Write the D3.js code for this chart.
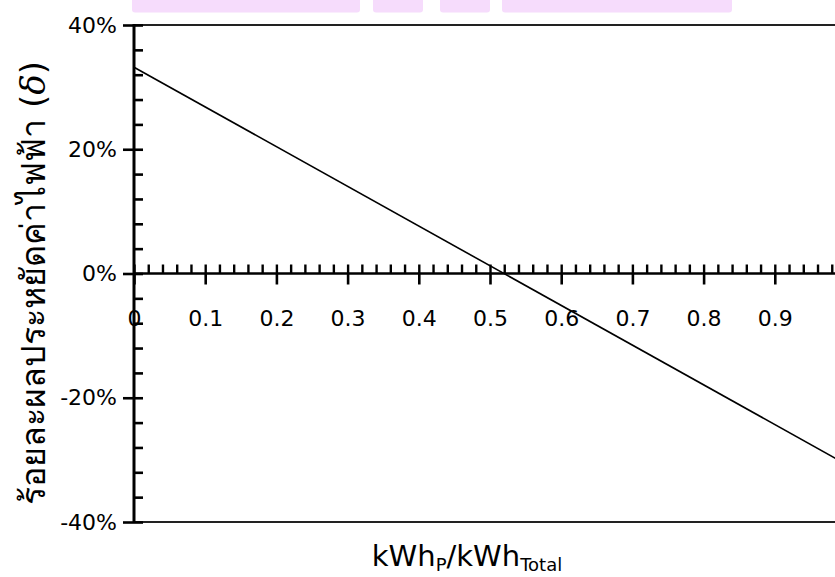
<!DOCTYPE html>
<html>
<head>
<meta charset="utf-8">
<script src="https://cdn.jsdelivr.net/npm/d3@7"></script>
<style>
  body { margin: 0; background: #fff; }
  svg { display: block; }
  text { font-family: "DejaVu Sans", sans-serif; fill: #000; }
</style>
</head>
<body>
<script>

// data
var ratio   = [0, 1];            // kWhP / kWhTotal
var saving  = [0.332, -0.307];   // delta
var xMajor  = [0, 0.1, 0.2, 0.3, 0.4, 0.5, 0.6, 0.7, 0.8, 0.9];
var yMajor  = [-0.4, -0.2, 0, 0.2, 0.4];
var yTitle  = "ร้อยละผลประหยัดค่าไฟฟ้า ";
// pale header blocks cut off at the top of the picture
var headerBlocks = [[132, 360], [373, 423], [440, 490], [502, 732]];

var width = 835, height = 577;

var svg = d3.select("body").append("svg")
  .attr("width", width)
  .attr("height", height);

var x = d3.scaleLinear().domain([0, 1]).range([134, 846]);
var y = d3.scaleLinear().domain([-0.4, 0.4]).range([522, 25]);

var xMinor = d3.range(0, 1.001, 0.02).filter(d => Math.abs(d*10 - Math.round(d*10)) > 1e-6);
var yMinor = d3.range(-0.4, 0.401, 0.04).filter(d => Math.abs(d*5 - Math.round(d*5)) > 1e-6);

//header blocks
svg.selectAll(".hdr")
  .data(headerBlocks)
  .enter().append("rect")
  .attr("x", d => d[0])
  .attr("y", -6)
  .attr("width", d => d[1] - d[0])
  .attr("height", 18.5)
  .attr("rx", 3)
  .attr("fill", "#f6dcfc");

//frame lines top and bottom
svg.append("line")
  .attr("x1", 134).attr("x2", width)
  .attr("y1", y(0.4)).attr("y2", y(0.4))
  .attr("stroke", "#222").attr("stroke-width", 2);
svg.append("line")
  .attr("x1", 134).attr("x2", width)
  .attr("y1", y(-0.4)).attr("y2", y(-0.4))
  .attr("stroke", "#222").attr("stroke-width", 2);

//the data line
var line = d3.line().x(d => x(d[0])).y(d => y(d[1]));
svg.append("path")
  .datum(d3.zip(ratio, saving))
  .attr("d", line)
  .attr("fill", "none")
  .attr("stroke", "#000")
  .attr("stroke-width", 1.6);

function styleAxis(g, w){
  g.selectAll(".domain").remove();
  g.selectAll(".tick line").attr("stroke", "#000").attr("stroke-width", w);
}

// y axis
var yLeft = svg.append("g")
  .attr("transform", "translate(134,0)")
  .call(d3.axisLeft(y).tickValues(yMajor).tickSize(11).tickSizeOuter(0).tickPadding(6)
    .tickFormat(d => Math.round(d * 100) + "%"));
styleAxis(yLeft, 2.6);
yLeft.selectAll("text").attr("font-size", 22).attr("font-family", "DejaVu Sans").attr("fill", "#000");

var yRight = svg.append("g")
  .attr("transform", "translate(134,0)")
  .call(d3.axisRight(y).tickValues(yMajor.concat(yMinor)).tickSize(9).tickFormat(""));
styleAxis(yRight, 2.6);

svg.append("line")
  .attr("x1", 134).attr("x2", 134)
  .attr("y1", y(0.4) - 1).attr("y2", y(-0.4) + 1)
  .attr("stroke", "#000").attr("stroke-width", 3);

// x axis along zero
var xBottom = svg.append("g")
  .attr("transform", "translate(0," + y(0) + ")")
  .call(d3.axisBottom(x).tickValues(xMajor).tickSize(11).tickSizeOuter(0).tickPadding(26)
    .tickFormat(d => d === 0 ? "0" : d.toFixed(1)));
styleAxis(xBottom, 2.6);
xBottom.selectAll("text").attr("font-size", 22).attr("font-family", "DejaVu Sans").attr("fill", "#000");

var xTop = svg.append("g")
  .attr("transform", "translate(0," + y(0) + ")")
  .call(d3.axisTop(x).tickValues(xMajor.concat(xMinor)).tickSize(9).tickFormat(""));
styleAxis(xTop, 2.4);

svg.append("line")
  .attr("x1", 134).attr("x2", width)
  .attr("y1", y(0)).attr("y2", y(0))
  .attr("stroke", "#000").attr("stroke-width", 2.6);

// axis titles
var xt = svg.append("text")
  .attr("x", 467)
  .attr("y", 566)
  .attr("text-anchor", "middle")
  .attr("font-size", 29);
xt.append("tspan").text("kWh");
xt.append("tspan").attr("font-size", 18).attr("dy", 5).text("P");
xt.append("tspan").attr("dy", -5).text("/kWh");
xt.append("tspan").attr("font-size", 18).attr("dy", 5).text("Total");

var yt = svg.append("text")
  .attr("transform", "translate(45,283) rotate(-90)")
  .attr("text-anchor", "middle")
  .attr("font-size", 34)
  .attr("font-family", "Tahoma, 'Noto Sans Thai', 'Noto Sans', 'DejaVu Sans', sans-serif");
yt.append("tspan").text(yTitle);
yt.append("tspan").text("(");
yt.append("tspan").attr("font-style", "italic").attr("font-family", "'DejaVu Serif', serif").text("δ");
yt.append("tspan").text(")");

</script>
</body>
</html>
